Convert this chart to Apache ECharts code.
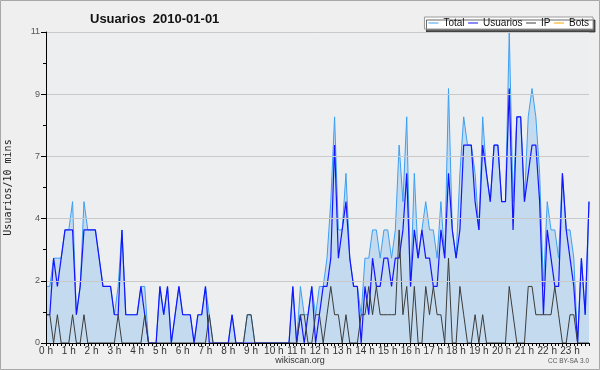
<!DOCTYPE html>
<html><head><meta charset="utf-8">
<script src="https://cdn.jsdelivr.net/npm/echarts@6/dist/echarts.min.js"></script>
<style>html,body{margin:0;padding:0;background:#efefef}#c{width:600px;height:370px}</style>
</head><body><div id="c"></div>
<script>
const hourLabels = ['0 h','1 h','2 h','3 h','4 h','5 h','6 h','7 h','8 h','9 h','10 h','11 h','12 h','13 h','14 h','15 h','16 h','17 h','18 h','19 h','20 h','21 h','22 h','23 h'];
const yTickLabels = ['0','2','4','7','9','11'];
const total = [2,2,3,3,3,4,4,5,1,2, 5,4,4,4,3,2,2,2,1,2, 4,1,1,1,1,2,2,0,0,0, 2,1,2,0,1,2,1,1,1,0,
  1,1,2,1,0,0,0,0,0,1, 0,0,0,1,1,0,0,0,0,0, 0,0,0,0,0,2,0,2,1,1, 2,1,2,2,3,5,8,4,4,6,
  3,2,2,1,3,3,4,4,3,4, 4,3,4,7,5,8,2,6,3,4, 5,4,4,3,5,3,9,4,3,6, 8,7,7,6,4,8,6,5,7,7,
  5,5,11,5,8,8,5,8,9,8, 6,2,5,4,4,3,6,4,4,3, 0,3,1,5];
const usuarios = [1,1,3,2,3,4,4,4,1,2, 4,4,4,4,3,2,2,2,1,1, 4,1,1,1,1,2,1,0,0,0, 2,1,2,0,1,2,1,1,1,0,
  1,1,2,0,0,0,0,0,0,1, 0,0,0,0,0,0,0,0,0,0, 0,0,0,0,0,2,0,1,0,1, 2,0,1,2,2,3,7,3,4,5,
  3,2,2,0,2,1,3,2,2,3, 3,2,3,3,4,6,2,4,3,4, 3,3,2,2,4,3,6,4,3,4, 7,7,7,5,4,7,6,5,7,7,
  5,5,9,4,8,8,5,6,7,7, 5,1,4,3,2,2,6,4,3,2, 0,3,1,5];
const ip = [1,1,0,1,0,0,0,1,0,0, 1,0,0,0,0,0,0,0,0,1, 0,0,0,0,0,0,1,0,0,0, 0,0,0,0,0,0,0,0,0,0,
  0,0,0,1,0,0,0,0,0,0, 0,0,0,1,1,0,0,0,0,0, 0,0,0,0,0,0,0,1,1,0, 0,1,1,0,1,2,1,1,0,1,
  0,0,0,1,1,2,1,2,1,1, 1,1,1,4,1,2,0,2,0,0, 2,1,2,1,1,0,3,0,0,2, 1,0,0,1,0,1,0,0,0,0,
  0,0,2,1,0,0,0,2,2,1, 1,1,1,1,2,1,0,0,1,1, 0,0,0,0];
const bots = [];

const slotsPerHour = 6;
const nSlots = total.length;
const allSlots = Array.from({length: nSlots}, (_, i) => i);
const hourSlots = hourLabels.map((_, h) => h * slotsPerHour);
const pts = arr => arr.map((v, i) => [i, v]);

const chart = echarts.init(document.getElementById('c'), null, {renderer: 'canvas'});
chart.setOption({
  animation: false,
  backgroundColor: '#efefef',
  textStyle: {fontFamily: 'Liberation Sans'},
  title: {text: 'Usuarios  2010-01-01', left: 85, top: 8,
    textStyle: {fontFamily: 'Liberation Sans', fontWeight: 'bold', fontSize: 13, color: '#111'}},
  legend: {right: 7, top: 17, data: ['Total', 'Usuarios', 'IP', 'Bots'],
    icon: 'rect', itemWidth: 10, itemHeight: 1, itemGap: 3.5,
    backgroundColor: '#fff', borderColor: '#9a9a9a', borderWidth: 1, borderRadius: 0,
    padding: [1, 4, 1, 4],
    shadowColor: 'rgba(0,0,0,0.6)', shadowOffsetX: 2, shadowOffsetY: 3, shadowBlur: 0,
    textStyle: {fontSize: 10, fontFamily: 'Liberation Sans', color: '#111'}},
  grid: {left: 46, right: 11, top: 32, bottom: 27, show: true, backgroundColor: '#eceef0', borderWidth: 0,
    containLabel: false, outerBoundsMode: 'none'},
  xAxis: {type: 'value', min: 0, max: nSlots - 1, interval: slotsPerHour, z: 10,
    axisLine: {show: true, lineStyle: {color: '#000', width: 1}},
    axisTick: {show: true, customValues: allSlots, length: 3, lineStyle: {color: '#000'}},
    axisLabel: {customValues: hourSlots, formatter: v => hourLabels[Math.round(v / slotsPerHour)],
      margin: 3, fontSize: 10, color: '#333', fontFamily: 'Liberation Sans'},
    splitLine: {show: false}},
  yAxis: {type: 'value', min: 0, max: 11, interval: 2.2, z: 10,
    axisLine: {show: true, lineStyle: {color: '#000'}},
    axisTick: {show: true, length: 5, lineStyle: {color: '#000'}},
    minorTick: {show: true, splitNumber: 2, length: 3, lineStyle: {color: '#000'}},
    splitLine: {lineStyle: {color: '#c9c9c9'}},
    axisLabel: {formatter: (v) => yTickLabels[Math.round(v / 2.2)], color: '#555', fontSize: 9, margin: 6},
    name: 'Usuarios/10 mins', nameLocation: 'middle', nameGap: 33,
    nameTextStyle: {fontFamily: 'DejaVu Sans Mono', fontSize: 10, color: '#222'}},
  series: [
    {name: 'Total', type: 'line', data: pts(total), symbol: 'none', z: 2,
      lineStyle: {color: '#3d9ff2', width: 1}, itemStyle: {color: '#3d9ff2'},
      areaStyle: {color: '#c4dbef', opacity: 1}},
    {name: 'Usuarios', type: 'line', data: pts(usuarios), symbol: 'none', z: 3,
      lineStyle: {color: '#1414ff', width: 1.2}, itemStyle: {color: '#1414ff'}},
    {name: 'IP', type: 'line', data: pts(ip), symbol: 'none', z: 4,
      lineStyle: {color: '#3c3c3c', width: 1}, itemStyle: {color: '#3c3c3c'}},
    {name: 'Bots', type: 'line', data: pts(bots), symbol: 'none', z: 4,
      lineStyle: {color: '#ffa500', width: 1}, itemStyle: {color: '#ffa500'}}
  ],
  graphic: [
    {type: 'rect', shape: {x: 0.5, y: 0.5, width: 599, height: 369}, style: {fill: 'none', stroke: '#a8a8a8', lineWidth: 1}, z: 100},
    {type: 'text', left: 'center', top: 356, style: {text: 'wikiscan.org', fill: '#333', font: '9px Liberation Sans'}},
    {type: 'text', right: 11, top: 358, style: {text: 'CC BY-SA 3.0', fill: '#555', font: '6.5px Liberation Sans'}}
  ]
});
</script></body></html>
